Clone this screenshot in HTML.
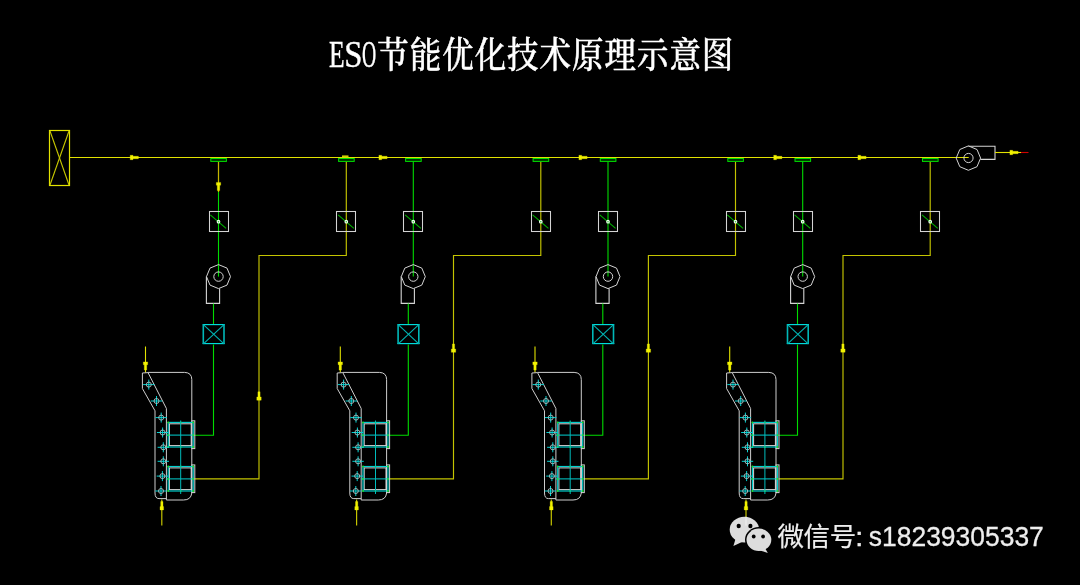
<!DOCTYPE html>
<html lang="zh-CN">
<head>
<meta charset="utf-8">
<title>ESO节能优化技术原理示意图</title>
<style>
html,body{margin:0;padding:0;background:#000;}
body{width:1080px;height:585px;overflow:hidden;position:relative;}
svg{position:absolute;left:0;top:0;display:block;}
.lat{font-family:"Liberation Serif","Noto Serif CJK SC",serif;font-size:37px;fill:#fff;stroke:#fff;stroke-width:0.4px;}
.cjk{font-family:"Liberation Serif","Noto Serif CJK SC",serif;font-size:36px;font-weight:500;fill:#fff;stroke:#fff;stroke-width:0.45px;}
.wmd{font-family:"Liberation Sans","Noto Sans CJK SC",sans-serif;font-size:27.9px;fill:#eeeeee;stroke:#eeeeee;stroke-width:0.3px;}
.wm{font-family:"Liberation Sans","Noto Sans CJK SC",sans-serif;font-size:26.5px;fill:#eeeeee;stroke:#eeeeee;stroke-width:0.2px;}
</style>
</head>
<body>
<svg width="1080" height="585" viewBox="0 0 1080 585">
<rect width="1080" height="585" fill="#000"/>
<g id="title" style="filter:grayscale(1)">
<text><tspan x="328.9" y="66.9" textLength="15.6" lengthAdjust="spacingAndGlyphs" class="lat">E</tspan><tspan x="344.2" y="66.9" textLength="18.2" lengthAdjust="spacingAndGlyphs" class="lat">S</tspan><tspan x="362.0" y="66.9" textLength="14.2" lengthAdjust="spacingAndGlyphs" class="lat">O</tspan><tspan x="377.3" y="67.5" textLength="31.5" lengthAdjust="spacingAndGlyphs" class="cjk">节</tspan><tspan x="409.8" y="67.5" textLength="31.5" lengthAdjust="spacingAndGlyphs" class="cjk">能</tspan><tspan x="442.2" y="67.5" textLength="31.5" lengthAdjust="spacingAndGlyphs" class="cjk">优</tspan><tspan x="474.7" y="67.5" textLength="31.5" lengthAdjust="spacingAndGlyphs" class="cjk">化</tspan><tspan x="507.1" y="67.5" textLength="31.5" lengthAdjust="spacingAndGlyphs" class="cjk">技</tspan><tspan x="539.5" y="67.5" textLength="31.5" lengthAdjust="spacingAndGlyphs" class="cjk">术</tspan><tspan x="572.0" y="67.5" textLength="31.5" lengthAdjust="spacingAndGlyphs" class="cjk">原</tspan><tspan x="604.5" y="67.5" textLength="31.5" lengthAdjust="spacingAndGlyphs" class="cjk">理</tspan><tspan x="636.9" y="67.5" textLength="31.5" lengthAdjust="spacingAndGlyphs" class="cjk">示</tspan><tspan x="669.4" y="67.5" textLength="31.5" lengthAdjust="spacingAndGlyphs" class="cjk">意</tspan><tspan x="701.8" y="67.5" textLength="31.5" lengthAdjust="spacingAndGlyphs" class="cjk">图</tspan></text>
</g>
<g id="diagram" shape-rendering="geometricPrecision">
<rect x="49.5" y="130.5" width="20" height="55" fill="none" stroke="#e2e200" stroke-width="1.2"/>
<line x1="50.0" y1="131.0" x2="69.0" y2="185.0" stroke="#c8c800" stroke-width="1.1" />
<line x1="69.0" y1="131.0" x2="50.0" y2="185.0" stroke="#c8c800" stroke-width="1.1" />
<line x1="70.0" y1="157.5" x2="968.7" y2="157.5" stroke="#e2e200" stroke-width="1.1" />
<polygon points="130.2,155.3 133.0,155.3 133.0,156.3 138.4,156.3 138.4,158.7 133.0,158.7 133.0,159.7 130.2,159.7" fill="#f2f200" stroke="#f2f200" stroke-width="0.3"/>
<polygon points="378.9,155.3 381.7,155.3 381.7,156.3 387.1,156.3 387.1,158.7 381.7,158.7 381.7,159.7 378.9,159.7" fill="#f2f200" stroke="#f2f200" stroke-width="0.3"/>
<polygon points="578.9,155.3 581.7,155.3 581.7,156.3 587.1,156.3 587.1,158.7 581.7,158.7 581.7,159.7 578.9,159.7" fill="#f2f200" stroke="#f2f200" stroke-width="0.3"/>
<polygon points="773.7,155.3 776.5,155.3 776.5,156.3 781.9,156.3 781.9,158.7 776.5,158.7 776.5,159.7 773.7,159.7" fill="#f2f200" stroke="#f2f200" stroke-width="0.3"/>
<polygon points="857.9,155.3 860.7,155.3 860.7,156.3 866.1,156.3 866.1,158.7 860.7,158.7 860.7,159.7 857.9,159.7" fill="#f2f200" stroke="#f2f200" stroke-width="0.3"/>
<rect x="342" y="155.4" width="6.5" height="1.8" fill="#d0d000"/>
<g transform="translate(0.0,0)">
<line x1="218.5" y1="161.5" x2="218.5" y2="276.6" stroke="#00dc00" stroke-width="1.1" />
<line x1="218.5" y1="161.5" x2="218.5" y2="192.0" stroke="#c8b400" stroke-width="1.2" />
<polygon points="216.3,182.4 216.3,185.2 217.3,185.2 217.3,190.6 219.7,190.6 219.7,185.2 220.7,185.2 220.7,182.4" fill="#f2f200" stroke="#f2f200" stroke-width="0.3"/>
<rect x="210.8" y="158.5" width="15.6" height="2.9" fill="#003000" stroke="#00e000" stroke-width="1"/>
<polygon points="230.5,276.6 227.0,285.1 218.5,288.6 210.0,285.1 206.5,276.6 210.0,268.1 218.5,264.6 227.0,268.1" fill="none" stroke="#d4d4d4" stroke-width="1"/>
<circle cx="218.5" cy="276.6" r="4.7" fill="none" stroke="#d4d4d4" stroke-width="1"/>
<polyline points="206.4,276.6 206.4,303.4 219.6,303.4 219.6,288.4" fill="none" stroke="#d4d4d4" stroke-width="1.1"/>
<line x1="213.5" y1="303.6" x2="213.5" y2="324.0" stroke="#00dc00" stroke-width="1.1" />
<line x1="202.6" y1="324.6" x2="224.8" y2="324.6" stroke="#00dcdc" stroke-width="1.15" />
<line x1="202.6" y1="343.6" x2="224.8" y2="343.6" stroke="#00dcdc" stroke-width="1.15" />
<line x1="203.3" y1="324.6" x2="203.3" y2="343.9" stroke="#00b8b8" stroke-width="1.6" />
<line x1="224.0" y1="324.6" x2="224.0" y2="343.9" stroke="#00b8b8" stroke-width="1.6" />
<line x1="203.4" y1="324.6" x2="224.0" y2="343.9" stroke="#00b4b4" stroke-width="1.1" />
<line x1="224.0" y1="324.6" x2="203.4" y2="343.9" stroke="#00b4b4" stroke-width="1.1" />
<polyline points="213.5,344.5 213.5,435.2 194.0,435.2" fill="none" stroke="#00dc00" stroke-width="1.1"/>
<polyline points="194.5,478.9 259.0,478.9 259.0,255.5 346.3,255.5 346.3,161.5" fill="none" stroke="#c4c400" stroke-width="1.15"/>
<rect x="338.6" y="158.5" width="15.6" height="2.9" fill="#003000" stroke="#00e000" stroke-width="1"/>
<polygon points="256.8,400.2 256.8,396.9 257.9,396.9 257.9,391.8 260.1,391.8 260.1,396.9 261.2,396.9 261.2,400.2" fill="#f2f200" stroke="#f2f200" stroke-width="0.3"/>
<line x1="145.5" y1="346.5" x2="145.5" y2="372.6" stroke="#e2e200" stroke-width="1.1" />
<polygon points="143.3,361.9 143.3,364.7 144.3,364.7 144.3,370.1 146.7,370.1 146.7,364.7 147.7,364.7 147.7,361.9" fill="#f2f200" stroke="#f2f200" stroke-width="0.3"/>
<line x1="161.8" y1="499.5" x2="161.8" y2="525.5" stroke="#c4c400" stroke-width="1.2" />
<polygon points="160.0,509.9 160.0,506.6 160.7,506.6 160.7,501.5 163.0,501.5 163.0,506.6 163.6,506.6 163.6,509.9" fill="#f2f200" stroke="#f2f200" stroke-width="0.3"/>
<path d="M148,372.6 L142.4,373 L142.4,388.5 L155,410.8 L155,493 Q155,498.6 159,498.6 L166.4,498.6" fill="none" stroke="#cecece" stroke-width="1"/>
<path d="M148,372.4 L184.6,372.4 Q191.8,372.6 191.8,379.6 L191.8,493 Q191,500 183.5,500 L166.4,500 L166.4,408.5 L148,372.6" fill="none" stroke="#cecece" stroke-width="1"/>
<rect x="191.8" y="420.8" width="3" height="27.8" fill="none" stroke="#d4d4d4" stroke-width="1"/>
<rect x="169.4" y="423.8" width="21.8" height="21.8" fill="none" stroke="#d8d8d8" stroke-width="1"/>
<rect x="168.2" y="422.4" width="25" height="24.6" fill="none" stroke="#00d2d2" stroke-width="1.15"/>
<line x1="166.0" y1="435.1" x2="194.0" y2="435.1" stroke="#00d2d2" stroke-width="1" />
<circle cx="168.2" cy="422.4" r="0.9" fill="#20e020"/>
<circle cx="168.2" cy="447.0" r="0.9" fill="#20e020"/>
<circle cx="180.7" cy="422.4" r="0.9" fill="#20e020"/>
<circle cx="180.7" cy="447.0" r="0.9" fill="#20e020"/>
<circle cx="193.2" cy="422.4" r="0.9" fill="#20e020"/>
<circle cx="193.2" cy="447.0" r="0.9" fill="#20e020"/>
<circle cx="168.2" cy="435.1" r="0.9" fill="#20e020"/><circle cx="193.2" cy="435.1" r="0.9" fill="#20e020"/>
<rect x="191.8" y="464.9" width="3" height="27.7" fill="none" stroke="#d4d4d4" stroke-width="1"/>
<rect x="169.4" y="467.9" width="21.8" height="21.7" fill="none" stroke="#d8d8d8" stroke-width="1"/>
<rect x="168.2" y="466.5" width="25" height="24.5" fill="none" stroke="#00d2d2" stroke-width="1.15"/>
<line x1="166.0" y1="478.9" x2="194.0" y2="478.9" stroke="#00d2d2" stroke-width="1" />
<circle cx="168.2" cy="466.5" r="0.9" fill="#20e020"/>
<circle cx="168.2" cy="491.0" r="0.9" fill="#20e020"/>
<circle cx="180.7" cy="466.5" r="0.9" fill="#20e020"/>
<circle cx="180.7" cy="491.0" r="0.9" fill="#20e020"/>
<circle cx="193.2" cy="466.5" r="0.9" fill="#20e020"/>
<circle cx="193.2" cy="491.0" r="0.9" fill="#20e020"/>
<circle cx="168.2" cy="478.9" r="0.9" fill="#20e020"/><circle cx="193.2" cy="478.9" r="0.9" fill="#20e020"/>
<line x1="180.7" y1="420.5" x2="180.7" y2="494.0" stroke="#00bcbc" stroke-width="1" />
<line x1="143.1" y1="384.6" x2="154.5" y2="384.6" stroke="#00d2d2" stroke-width="1" />
<line x1="148.8" y1="379.6" x2="148.8" y2="389.6" stroke="#00d2d2" stroke-width="1" />
<circle cx="148.8" cy="384.6" r="2.5" fill="none" stroke="#b4c4c4" stroke-width="0.9"/>
<line x1="150.8" y1="401.0" x2="162.2" y2="401.0" stroke="#00d2d2" stroke-width="1" />
<line x1="156.5" y1="396.0" x2="156.5" y2="406.0" stroke="#00d2d2" stroke-width="1" />
<circle cx="156.5" cy="401.0" r="2.5" fill="none" stroke="#b4c4c4" stroke-width="0.9"/>
<line x1="155.5" y1="417.6" x2="166.9" y2="417.6" stroke="#00d2d2" stroke-width="1" />
<line x1="161.2" y1="412.6" x2="161.2" y2="422.6" stroke="#00d2d2" stroke-width="1" />
<circle cx="161.2" cy="417.6" r="2.5" fill="none" stroke="#b4c4c4" stroke-width="0.9"/>
<line x1="156.9" y1="432.5" x2="168.3" y2="432.5" stroke="#00d2d2" stroke-width="1" />
<line x1="162.6" y1="427.5" x2="162.6" y2="437.5" stroke="#00d2d2" stroke-width="1" />
<circle cx="162.6" cy="432.5" r="2.5" fill="none" stroke="#b4c4c4" stroke-width="0.9"/>
<line x1="157.6" y1="447.3" x2="169.0" y2="447.3" stroke="#00d2d2" stroke-width="1" />
<line x1="163.3" y1="442.3" x2="163.3" y2="452.3" stroke="#00d2d2" stroke-width="1" />
<circle cx="163.3" cy="447.3" r="2.5" fill="none" stroke="#b4c4c4" stroke-width="0.9"/>
<line x1="157.6" y1="461.3" x2="169.0" y2="461.3" stroke="#00d2d2" stroke-width="1" />
<line x1="163.3" y1="456.3" x2="163.3" y2="466.3" stroke="#00d2d2" stroke-width="1" />
<circle cx="163.3" cy="461.3" r="2.5" fill="none" stroke="#b4c4c4" stroke-width="0.9"/>
<line x1="156.7" y1="476.1" x2="168.1" y2="476.1" stroke="#00d2d2" stroke-width="1" />
<line x1="162.4" y1="471.1" x2="162.4" y2="481.1" stroke="#00d2d2" stroke-width="1" />
<circle cx="162.4" cy="476.1" r="2.5" fill="none" stroke="#b4c4c4" stroke-width="0.9"/>
<line x1="155.3" y1="491.0" x2="166.7" y2="491.0" stroke="#00d2d2" stroke-width="1" />
<line x1="161.0" y1="486.0" x2="161.0" y2="496.0" stroke="#00d2d2" stroke-width="1" />
<circle cx="161.0" cy="491.0" r="2.5" fill="none" stroke="#b4c4c4" stroke-width="0.9"/>
</g>
<g transform="translate(194.8,0)">
<line x1="218.5" y1="161.5" x2="218.5" y2="276.6" stroke="#00dc00" stroke-width="1.1" />
<rect x="210.8" y="158.5" width="15.6" height="2.9" fill="#003000" stroke="#00e000" stroke-width="1"/>
<polygon points="230.5,276.6 227.0,285.1 218.5,288.6 210.0,285.1 206.5,276.6 210.0,268.1 218.5,264.6 227.0,268.1" fill="none" stroke="#d4d4d4" stroke-width="1"/>
<circle cx="218.5" cy="276.6" r="4.7" fill="none" stroke="#d4d4d4" stroke-width="1"/>
<polyline points="206.4,276.6 206.4,303.4 219.6,303.4 219.6,288.4" fill="none" stroke="#d4d4d4" stroke-width="1.1"/>
<line x1="213.5" y1="303.6" x2="213.5" y2="324.0" stroke="#00dc00" stroke-width="1.1" />
<line x1="202.6" y1="324.6" x2="224.8" y2="324.6" stroke="#00dcdc" stroke-width="1.15" />
<line x1="202.6" y1="343.6" x2="224.8" y2="343.6" stroke="#00dcdc" stroke-width="1.15" />
<line x1="203.3" y1="324.6" x2="203.3" y2="343.9" stroke="#00b8b8" stroke-width="1.6" />
<line x1="224.0" y1="324.6" x2="224.0" y2="343.9" stroke="#00b8b8" stroke-width="1.6" />
<line x1="203.4" y1="324.6" x2="224.0" y2="343.9" stroke="#00b4b4" stroke-width="1.1" />
<line x1="224.0" y1="324.6" x2="203.4" y2="343.9" stroke="#00b4b4" stroke-width="1.1" />
<polyline points="213.5,344.5 213.5,435.2 194.0,435.2" fill="none" stroke="#00dc00" stroke-width="1.1"/>
<polyline points="194.5,478.9 258.7,478.9 258.7,255.5 346.0,255.5 346.0,161.5" fill="none" stroke="#c4c400" stroke-width="1.15"/>
<rect x="338.3" y="158.5" width="15.6" height="2.9" fill="#003000" stroke="#00e000" stroke-width="1"/>
<polygon points="256.5,352.3 256.5,349.0 257.6,349.0 257.6,343.9 259.8,343.9 259.8,349.0 260.9,349.0 260.9,352.3" fill="#f2f200" stroke="#f2f200" stroke-width="0.3"/>
<line x1="145.5" y1="346.5" x2="145.5" y2="372.6" stroke="#e2e200" stroke-width="1.1" />
<polygon points="143.3,361.9 143.3,364.7 144.3,364.7 144.3,370.1 146.7,370.1 146.7,364.7 147.7,364.7 147.7,361.9" fill="#f2f200" stroke="#f2f200" stroke-width="0.3"/>
<line x1="161.8" y1="499.5" x2="161.8" y2="525.5" stroke="#c4c400" stroke-width="1.2" />
<polygon points="160.0,509.9 160.0,506.6 160.7,506.6 160.7,501.5 163.0,501.5 163.0,506.6 163.6,506.6 163.6,509.9" fill="#f2f200" stroke="#f2f200" stroke-width="0.3"/>
<path d="M148,372.6 L142.4,373 L142.4,388.5 L155,410.8 L155,493 Q155,498.6 159,498.6 L166.4,498.6" fill="none" stroke="#cecece" stroke-width="1"/>
<path d="M148,372.4 L184.6,372.4 Q191.8,372.6 191.8,379.6 L191.8,493 Q191,500 183.5,500 L166.4,500 L166.4,408.5 L148,372.6" fill="none" stroke="#cecece" stroke-width="1"/>
<rect x="191.8" y="420.8" width="3" height="27.8" fill="none" stroke="#d4d4d4" stroke-width="1"/>
<rect x="169.4" y="423.8" width="21.8" height="21.8" fill="none" stroke="#d8d8d8" stroke-width="1"/>
<rect x="168.2" y="422.4" width="25" height="24.6" fill="none" stroke="#00d2d2" stroke-width="1.15"/>
<line x1="166.0" y1="435.1" x2="194.0" y2="435.1" stroke="#00d2d2" stroke-width="1" />
<circle cx="168.2" cy="422.4" r="0.9" fill="#20e020"/>
<circle cx="168.2" cy="447.0" r="0.9" fill="#20e020"/>
<circle cx="180.7" cy="422.4" r="0.9" fill="#20e020"/>
<circle cx="180.7" cy="447.0" r="0.9" fill="#20e020"/>
<circle cx="193.2" cy="422.4" r="0.9" fill="#20e020"/>
<circle cx="193.2" cy="447.0" r="0.9" fill="#20e020"/>
<circle cx="168.2" cy="435.1" r="0.9" fill="#20e020"/><circle cx="193.2" cy="435.1" r="0.9" fill="#20e020"/>
<rect x="191.8" y="464.9" width="3" height="27.7" fill="none" stroke="#d4d4d4" stroke-width="1"/>
<rect x="169.4" y="467.9" width="21.8" height="21.7" fill="none" stroke="#d8d8d8" stroke-width="1"/>
<rect x="168.2" y="466.5" width="25" height="24.5" fill="none" stroke="#00d2d2" stroke-width="1.15"/>
<line x1="166.0" y1="478.9" x2="194.0" y2="478.9" stroke="#00d2d2" stroke-width="1" />
<circle cx="168.2" cy="466.5" r="0.9" fill="#20e020"/>
<circle cx="168.2" cy="491.0" r="0.9" fill="#20e020"/>
<circle cx="180.7" cy="466.5" r="0.9" fill="#20e020"/>
<circle cx="180.7" cy="491.0" r="0.9" fill="#20e020"/>
<circle cx="193.2" cy="466.5" r="0.9" fill="#20e020"/>
<circle cx="193.2" cy="491.0" r="0.9" fill="#20e020"/>
<circle cx="168.2" cy="478.9" r="0.9" fill="#20e020"/><circle cx="193.2" cy="478.9" r="0.9" fill="#20e020"/>
<line x1="180.7" y1="420.5" x2="180.7" y2="494.0" stroke="#00bcbc" stroke-width="1" />
<line x1="143.1" y1="384.6" x2="154.5" y2="384.6" stroke="#00d2d2" stroke-width="1" />
<line x1="148.8" y1="379.6" x2="148.8" y2="389.6" stroke="#00d2d2" stroke-width="1" />
<circle cx="148.8" cy="384.6" r="2.5" fill="none" stroke="#b4c4c4" stroke-width="0.9"/>
<line x1="150.8" y1="401.0" x2="162.2" y2="401.0" stroke="#00d2d2" stroke-width="1" />
<line x1="156.5" y1="396.0" x2="156.5" y2="406.0" stroke="#00d2d2" stroke-width="1" />
<circle cx="156.5" cy="401.0" r="2.5" fill="none" stroke="#b4c4c4" stroke-width="0.9"/>
<line x1="155.5" y1="417.6" x2="166.9" y2="417.6" stroke="#00d2d2" stroke-width="1" />
<line x1="161.2" y1="412.6" x2="161.2" y2="422.6" stroke="#00d2d2" stroke-width="1" />
<circle cx="161.2" cy="417.6" r="2.5" fill="none" stroke="#b4c4c4" stroke-width="0.9"/>
<line x1="156.9" y1="432.5" x2="168.3" y2="432.5" stroke="#00d2d2" stroke-width="1" />
<line x1="162.6" y1="427.5" x2="162.6" y2="437.5" stroke="#00d2d2" stroke-width="1" />
<circle cx="162.6" cy="432.5" r="2.5" fill="none" stroke="#b4c4c4" stroke-width="0.9"/>
<line x1="157.6" y1="447.3" x2="169.0" y2="447.3" stroke="#00d2d2" stroke-width="1" />
<line x1="163.3" y1="442.3" x2="163.3" y2="452.3" stroke="#00d2d2" stroke-width="1" />
<circle cx="163.3" cy="447.3" r="2.5" fill="none" stroke="#b4c4c4" stroke-width="0.9"/>
<line x1="157.6" y1="461.3" x2="169.0" y2="461.3" stroke="#00d2d2" stroke-width="1" />
<line x1="163.3" y1="456.3" x2="163.3" y2="466.3" stroke="#00d2d2" stroke-width="1" />
<circle cx="163.3" cy="461.3" r="2.5" fill="none" stroke="#b4c4c4" stroke-width="0.9"/>
<line x1="156.7" y1="476.1" x2="168.1" y2="476.1" stroke="#00d2d2" stroke-width="1" />
<line x1="162.4" y1="471.1" x2="162.4" y2="481.1" stroke="#00d2d2" stroke-width="1" />
<circle cx="162.4" cy="476.1" r="2.5" fill="none" stroke="#b4c4c4" stroke-width="0.9"/>
<line x1="155.3" y1="491.0" x2="166.7" y2="491.0" stroke="#00d2d2" stroke-width="1" />
<line x1="161.0" y1="486.0" x2="161.0" y2="496.0" stroke="#00d2d2" stroke-width="1" />
<circle cx="161.0" cy="491.0" r="2.5" fill="none" stroke="#b4c4c4" stroke-width="0.9"/>
</g>
<g transform="translate(389.5,0)">
<line x1="218.5" y1="161.5" x2="218.5" y2="276.6" stroke="#00dc00" stroke-width="1.1" />
<rect x="210.8" y="158.5" width="15.6" height="2.9" fill="#003000" stroke="#00e000" stroke-width="1"/>
<polygon points="230.5,276.6 227.0,285.1 218.5,288.6 210.0,285.1 206.5,276.6 210.0,268.1 218.5,264.6 227.0,268.1" fill="none" stroke="#d4d4d4" stroke-width="1"/>
<circle cx="218.5" cy="276.6" r="4.7" fill="none" stroke="#d4d4d4" stroke-width="1"/>
<polyline points="206.4,276.6 206.4,303.4 219.6,303.4 219.6,288.4" fill="none" stroke="#d4d4d4" stroke-width="1.1"/>
<line x1="213.3" y1="303.6" x2="213.3" y2="324.0" stroke="#00dc00" stroke-width="1.1" />
<line x1="202.6" y1="324.6" x2="224.8" y2="324.6" stroke="#00dcdc" stroke-width="1.15" />
<line x1="202.6" y1="343.6" x2="224.8" y2="343.6" stroke="#00dcdc" stroke-width="1.15" />
<line x1="203.3" y1="324.6" x2="203.3" y2="343.9" stroke="#00b8b8" stroke-width="1.6" />
<line x1="224.0" y1="324.6" x2="224.0" y2="343.9" stroke="#00b8b8" stroke-width="1.6" />
<line x1="203.4" y1="324.6" x2="224.0" y2="343.9" stroke="#00b4b4" stroke-width="1.1" />
<line x1="224.0" y1="324.6" x2="203.4" y2="343.9" stroke="#00b4b4" stroke-width="1.1" />
<polyline points="213.3,344.5 213.3,435.2 194.0,435.2" fill="none" stroke="#00dc00" stroke-width="1.1"/>
<polyline points="194.5,478.9 258.9,478.9 258.9,255.5 346.0,255.5 346.0,161.5" fill="none" stroke="#c4c400" stroke-width="1.15"/>
<rect x="338.3" y="158.5" width="15.6" height="2.9" fill="#003000" stroke="#00e000" stroke-width="1"/>
<polygon points="256.7,352.3 256.7,349.0 257.8,349.0 257.8,343.9 260.0,343.9 260.0,349.0 261.1,349.0 261.1,352.3" fill="#f2f200" stroke="#f2f200" stroke-width="0.3"/>
<line x1="145.5" y1="346.5" x2="145.5" y2="372.6" stroke="#e2e200" stroke-width="1.1" />
<polygon points="143.3,361.9 143.3,364.7 144.3,364.7 144.3,370.1 146.7,370.1 146.7,364.7 147.7,364.7 147.7,361.9" fill="#f2f200" stroke="#f2f200" stroke-width="0.3"/>
<line x1="161.8" y1="499.5" x2="161.8" y2="525.5" stroke="#c4c400" stroke-width="1.2" />
<polygon points="160.0,509.9 160.0,506.6 160.7,506.6 160.7,501.5 163.0,501.5 163.0,506.6 163.6,506.6 163.6,509.9" fill="#f2f200" stroke="#f2f200" stroke-width="0.3"/>
<path d="M148,372.6 L142.4,373 L142.4,388.5 L155,410.8 L155,493 Q155,498.6 159,498.6 L166.4,498.6" fill="none" stroke="#cecece" stroke-width="1"/>
<path d="M148,372.4 L184.6,372.4 Q191.8,372.6 191.8,379.6 L191.8,493 Q191,500 183.5,500 L166.4,500 L166.4,408.5 L148,372.6" fill="none" stroke="#cecece" stroke-width="1"/>
<rect x="191.8" y="420.8" width="3" height="27.8" fill="none" stroke="#d4d4d4" stroke-width="1"/>
<rect x="169.4" y="423.8" width="21.8" height="21.8" fill="none" stroke="#d8d8d8" stroke-width="1"/>
<rect x="168.2" y="422.4" width="25" height="24.6" fill="none" stroke="#00d2d2" stroke-width="1.15"/>
<line x1="166.0" y1="435.1" x2="194.0" y2="435.1" stroke="#00d2d2" stroke-width="1" />
<circle cx="168.2" cy="422.4" r="0.9" fill="#20e020"/>
<circle cx="168.2" cy="447.0" r="0.9" fill="#20e020"/>
<circle cx="180.7" cy="422.4" r="0.9" fill="#20e020"/>
<circle cx="180.7" cy="447.0" r="0.9" fill="#20e020"/>
<circle cx="193.2" cy="422.4" r="0.9" fill="#20e020"/>
<circle cx="193.2" cy="447.0" r="0.9" fill="#20e020"/>
<circle cx="168.2" cy="435.1" r="0.9" fill="#20e020"/><circle cx="193.2" cy="435.1" r="0.9" fill="#20e020"/>
<rect x="191.8" y="464.9" width="3" height="27.7" fill="none" stroke="#d4d4d4" stroke-width="1"/>
<rect x="169.4" y="467.9" width="21.8" height="21.7" fill="none" stroke="#d8d8d8" stroke-width="1"/>
<rect x="168.2" y="466.5" width="25" height="24.5" fill="none" stroke="#00d2d2" stroke-width="1.15"/>
<line x1="166.0" y1="478.9" x2="194.0" y2="478.9" stroke="#00d2d2" stroke-width="1" />
<circle cx="168.2" cy="466.5" r="0.9" fill="#20e020"/>
<circle cx="168.2" cy="491.0" r="0.9" fill="#20e020"/>
<circle cx="180.7" cy="466.5" r="0.9" fill="#20e020"/>
<circle cx="180.7" cy="491.0" r="0.9" fill="#20e020"/>
<circle cx="193.2" cy="466.5" r="0.9" fill="#20e020"/>
<circle cx="193.2" cy="491.0" r="0.9" fill="#20e020"/>
<circle cx="168.2" cy="478.9" r="0.9" fill="#20e020"/><circle cx="193.2" cy="478.9" r="0.9" fill="#20e020"/>
<line x1="180.7" y1="420.5" x2="180.7" y2="494.0" stroke="#00bcbc" stroke-width="1" />
<line x1="143.1" y1="384.6" x2="154.5" y2="384.6" stroke="#00d2d2" stroke-width="1" />
<line x1="148.8" y1="379.6" x2="148.8" y2="389.6" stroke="#00d2d2" stroke-width="1" />
<circle cx="148.8" cy="384.6" r="2.5" fill="none" stroke="#b4c4c4" stroke-width="0.9"/>
<line x1="150.8" y1="401.0" x2="162.2" y2="401.0" stroke="#00d2d2" stroke-width="1" />
<line x1="156.5" y1="396.0" x2="156.5" y2="406.0" stroke="#00d2d2" stroke-width="1" />
<circle cx="156.5" cy="401.0" r="2.5" fill="none" stroke="#b4c4c4" stroke-width="0.9"/>
<line x1="155.5" y1="417.6" x2="166.9" y2="417.6" stroke="#00d2d2" stroke-width="1" />
<line x1="161.2" y1="412.6" x2="161.2" y2="422.6" stroke="#00d2d2" stroke-width="1" />
<circle cx="161.2" cy="417.6" r="2.5" fill="none" stroke="#b4c4c4" stroke-width="0.9"/>
<line x1="156.9" y1="432.5" x2="168.3" y2="432.5" stroke="#00d2d2" stroke-width="1" />
<line x1="162.6" y1="427.5" x2="162.6" y2="437.5" stroke="#00d2d2" stroke-width="1" />
<circle cx="162.6" cy="432.5" r="2.5" fill="none" stroke="#b4c4c4" stroke-width="0.9"/>
<line x1="157.6" y1="447.3" x2="169.0" y2="447.3" stroke="#00d2d2" stroke-width="1" />
<line x1="163.3" y1="442.3" x2="163.3" y2="452.3" stroke="#00d2d2" stroke-width="1" />
<circle cx="163.3" cy="447.3" r="2.5" fill="none" stroke="#b4c4c4" stroke-width="0.9"/>
<line x1="157.6" y1="461.3" x2="169.0" y2="461.3" stroke="#00d2d2" stroke-width="1" />
<line x1="163.3" y1="456.3" x2="163.3" y2="466.3" stroke="#00d2d2" stroke-width="1" />
<circle cx="163.3" cy="461.3" r="2.5" fill="none" stroke="#b4c4c4" stroke-width="0.9"/>
<line x1="156.7" y1="476.1" x2="168.1" y2="476.1" stroke="#00d2d2" stroke-width="1" />
<line x1="162.4" y1="471.1" x2="162.4" y2="481.1" stroke="#00d2d2" stroke-width="1" />
<circle cx="162.4" cy="476.1" r="2.5" fill="none" stroke="#b4c4c4" stroke-width="0.9"/>
<line x1="155.3" y1="491.0" x2="166.7" y2="491.0" stroke="#00d2d2" stroke-width="1" />
<line x1="161.0" y1="486.0" x2="161.0" y2="496.0" stroke="#00d2d2" stroke-width="1" />
<circle cx="161.0" cy="491.0" r="2.5" fill="none" stroke="#b4c4c4" stroke-width="0.9"/>
</g>
<g transform="translate(584.2,0)">
<line x1="218.5" y1="161.5" x2="218.5" y2="276.6" stroke="#00dc00" stroke-width="1.1" />
<rect x="210.8" y="158.5" width="15.6" height="2.9" fill="#003000" stroke="#00e000" stroke-width="1"/>
<polygon points="230.5,276.6 227.0,285.1 218.5,288.6 210.0,285.1 206.5,276.6 210.0,268.1 218.5,264.6 227.0,268.1" fill="none" stroke="#d4d4d4" stroke-width="1"/>
<circle cx="218.5" cy="276.6" r="4.7" fill="none" stroke="#d4d4d4" stroke-width="1"/>
<polyline points="206.4,276.6 206.4,303.4 219.6,303.4 219.6,288.4" fill="none" stroke="#d4d4d4" stroke-width="1.1"/>
<line x1="213.3" y1="303.6" x2="213.3" y2="324.0" stroke="#00dc00" stroke-width="1.1" />
<line x1="202.6" y1="324.6" x2="224.8" y2="324.6" stroke="#00dcdc" stroke-width="1.15" />
<line x1="202.6" y1="343.6" x2="224.8" y2="343.6" stroke="#00dcdc" stroke-width="1.15" />
<line x1="203.3" y1="324.6" x2="203.3" y2="343.9" stroke="#00b8b8" stroke-width="1.6" />
<line x1="224.0" y1="324.6" x2="224.0" y2="343.9" stroke="#00b8b8" stroke-width="1.6" />
<line x1="203.4" y1="324.6" x2="224.0" y2="343.9" stroke="#00b4b4" stroke-width="1.1" />
<line x1="224.0" y1="324.6" x2="203.4" y2="343.9" stroke="#00b4b4" stroke-width="1.1" />
<polyline points="213.3,344.5 213.3,435.2 194.0,435.2" fill="none" stroke="#00dc00" stroke-width="1.1"/>
<polyline points="194.5,478.9 258.8,478.9 258.8,255.5 346.0,255.5 346.0,161.5" fill="none" stroke="#c4c400" stroke-width="1.15"/>
<rect x="338.3" y="158.5" width="15.6" height="2.9" fill="#003000" stroke="#00e000" stroke-width="1"/>
<polygon points="256.6,352.2 256.6,348.9 257.6,348.9 257.6,343.9 259.9,343.9 259.9,348.9 260.9,348.9 260.9,352.2" fill="#f2f200" stroke="#f2f200" stroke-width="0.3"/>
<line x1="145.5" y1="346.5" x2="145.5" y2="372.6" stroke="#e2e200" stroke-width="1.1" />
<polygon points="143.3,361.9 143.3,364.7 144.3,364.7 144.3,370.1 146.7,370.1 146.7,364.7 147.7,364.7 147.7,361.9" fill="#f2f200" stroke="#f2f200" stroke-width="0.3"/>
<line x1="161.8" y1="499.5" x2="161.8" y2="525.5" stroke="#c4c400" stroke-width="1.2" />
<polygon points="160.0,509.9 160.0,506.6 160.7,506.6 160.7,501.5 163.0,501.5 163.0,506.6 163.6,506.6 163.6,509.9" fill="#f2f200" stroke="#f2f200" stroke-width="0.3"/>
<path d="M148,372.6 L142.4,373 L142.4,388.5 L155,410.8 L155,493 Q155,498.6 159,498.6 L166.4,498.6" fill="none" stroke="#cecece" stroke-width="1"/>
<path d="M148,372.4 L184.6,372.4 Q191.8,372.6 191.8,379.6 L191.8,493 Q191,500 183.5,500 L166.4,500 L166.4,408.5 L148,372.6" fill="none" stroke="#cecece" stroke-width="1"/>
<rect x="191.8" y="420.8" width="3" height="27.8" fill="none" stroke="#d4d4d4" stroke-width="1"/>
<rect x="169.4" y="423.8" width="21.8" height="21.8" fill="none" stroke="#d8d8d8" stroke-width="1"/>
<rect x="168.2" y="422.4" width="25" height="24.6" fill="none" stroke="#00d2d2" stroke-width="1.15"/>
<line x1="166.0" y1="435.1" x2="194.0" y2="435.1" stroke="#00d2d2" stroke-width="1" />
<circle cx="168.2" cy="422.4" r="0.9" fill="#20e020"/>
<circle cx="168.2" cy="447.0" r="0.9" fill="#20e020"/>
<circle cx="180.7" cy="422.4" r="0.9" fill="#20e020"/>
<circle cx="180.7" cy="447.0" r="0.9" fill="#20e020"/>
<circle cx="193.2" cy="422.4" r="0.9" fill="#20e020"/>
<circle cx="193.2" cy="447.0" r="0.9" fill="#20e020"/>
<circle cx="168.2" cy="435.1" r="0.9" fill="#20e020"/><circle cx="193.2" cy="435.1" r="0.9" fill="#20e020"/>
<rect x="191.8" y="464.9" width="3" height="27.7" fill="none" stroke="#d4d4d4" stroke-width="1"/>
<rect x="169.4" y="467.9" width="21.8" height="21.7" fill="none" stroke="#d8d8d8" stroke-width="1"/>
<rect x="168.2" y="466.5" width="25" height="24.5" fill="none" stroke="#00d2d2" stroke-width="1.15"/>
<line x1="166.0" y1="478.9" x2="194.0" y2="478.9" stroke="#00d2d2" stroke-width="1" />
<circle cx="168.2" cy="466.5" r="0.9" fill="#20e020"/>
<circle cx="168.2" cy="491.0" r="0.9" fill="#20e020"/>
<circle cx="180.7" cy="466.5" r="0.9" fill="#20e020"/>
<circle cx="180.7" cy="491.0" r="0.9" fill="#20e020"/>
<circle cx="193.2" cy="466.5" r="0.9" fill="#20e020"/>
<circle cx="193.2" cy="491.0" r="0.9" fill="#20e020"/>
<circle cx="168.2" cy="478.9" r="0.9" fill="#20e020"/><circle cx="193.2" cy="478.9" r="0.9" fill="#20e020"/>
<line x1="180.7" y1="420.5" x2="180.7" y2="494.0" stroke="#00bcbc" stroke-width="1" />
<line x1="143.1" y1="384.6" x2="154.5" y2="384.6" stroke="#00d2d2" stroke-width="1" />
<line x1="148.8" y1="379.6" x2="148.8" y2="389.6" stroke="#00d2d2" stroke-width="1" />
<circle cx="148.8" cy="384.6" r="2.5" fill="none" stroke="#b4c4c4" stroke-width="0.9"/>
<line x1="150.8" y1="401.0" x2="162.2" y2="401.0" stroke="#00d2d2" stroke-width="1" />
<line x1="156.5" y1="396.0" x2="156.5" y2="406.0" stroke="#00d2d2" stroke-width="1" />
<circle cx="156.5" cy="401.0" r="2.5" fill="none" stroke="#b4c4c4" stroke-width="0.9"/>
<line x1="155.5" y1="417.6" x2="166.9" y2="417.6" stroke="#00d2d2" stroke-width="1" />
<line x1="161.2" y1="412.6" x2="161.2" y2="422.6" stroke="#00d2d2" stroke-width="1" />
<circle cx="161.2" cy="417.6" r="2.5" fill="none" stroke="#b4c4c4" stroke-width="0.9"/>
<line x1="156.9" y1="432.5" x2="168.3" y2="432.5" stroke="#00d2d2" stroke-width="1" />
<line x1="162.6" y1="427.5" x2="162.6" y2="437.5" stroke="#00d2d2" stroke-width="1" />
<circle cx="162.6" cy="432.5" r="2.5" fill="none" stroke="#b4c4c4" stroke-width="0.9"/>
<line x1="157.6" y1="447.3" x2="169.0" y2="447.3" stroke="#00d2d2" stroke-width="1" />
<line x1="163.3" y1="442.3" x2="163.3" y2="452.3" stroke="#00d2d2" stroke-width="1" />
<circle cx="163.3" cy="447.3" r="2.5" fill="none" stroke="#b4c4c4" stroke-width="0.9"/>
<line x1="157.6" y1="461.3" x2="169.0" y2="461.3" stroke="#00d2d2" stroke-width="1" />
<line x1="163.3" y1="456.3" x2="163.3" y2="466.3" stroke="#00d2d2" stroke-width="1" />
<circle cx="163.3" cy="461.3" r="2.5" fill="none" stroke="#b4c4c4" stroke-width="0.9"/>
<line x1="156.7" y1="476.1" x2="168.1" y2="476.1" stroke="#00d2d2" stroke-width="1" />
<line x1="162.4" y1="471.1" x2="162.4" y2="481.1" stroke="#00d2d2" stroke-width="1" />
<circle cx="162.4" cy="476.1" r="2.5" fill="none" stroke="#b4c4c4" stroke-width="0.9"/>
<line x1="155.3" y1="491.0" x2="166.7" y2="491.0" stroke="#00d2d2" stroke-width="1" />
<line x1="161.0" y1="486.0" x2="161.0" y2="496.0" stroke="#00d2d2" stroke-width="1" />
<circle cx="161.0" cy="491.0" r="2.5" fill="none" stroke="#b4c4c4" stroke-width="0.9"/>
</g>
<rect x="209.5" y="211.5" width="19" height="20" fill="none" stroke="#d4d4d4" stroke-width="1.05"/>
<line x1="210.3" y1="214.8" x2="226.1" y2="228.4" stroke="#00b400" stroke-width="1.05" />
<circle cx="218.5" cy="221.7" r="1.3" fill="#30c030" stroke="#f0fff0" stroke-width="1.1"/>
<rect x="336.5" y="211.5" width="19" height="20" fill="none" stroke="#d4d4d4" stroke-width="1.05"/>
<line x1="338.1" y1="214.8" x2="353.9" y2="228.4" stroke="#00b400" stroke-width="1.05" />
<circle cx="346.3" cy="221.7" r="1.3" fill="#30c030" stroke="#f0fff0" stroke-width="1.1"/>
<rect x="403.5" y="211.5" width="19" height="20" fill="none" stroke="#d4d4d4" stroke-width="1.05"/>
<line x1="405.1" y1="214.8" x2="420.9" y2="228.4" stroke="#00b400" stroke-width="1.05" />
<circle cx="413.3" cy="221.7" r="1.3" fill="#30c030" stroke="#f0fff0" stroke-width="1.1"/>
<rect x="531.5" y="211.5" width="19" height="20" fill="none" stroke="#d4d4d4" stroke-width="1.05"/>
<line x1="532.6" y1="214.8" x2="548.4" y2="228.4" stroke="#00b400" stroke-width="1.05" />
<circle cx="540.8" cy="221.7" r="1.3" fill="#30c030" stroke="#f0fff0" stroke-width="1.1"/>
<rect x="598.5" y="211.5" width="19" height="20" fill="none" stroke="#d4d4d4" stroke-width="1.05"/>
<line x1="599.8" y1="214.8" x2="615.6" y2="228.4" stroke="#00b400" stroke-width="1.05" />
<circle cx="608.0" cy="221.7" r="1.3" fill="#30c030" stroke="#f0fff0" stroke-width="1.1"/>
<rect x="726.5" y="211.5" width="19" height="20" fill="none" stroke="#d4d4d4" stroke-width="1.05"/>
<line x1="727.3" y1="214.8" x2="743.1" y2="228.4" stroke="#00b400" stroke-width="1.05" />
<circle cx="735.5" cy="221.7" r="1.3" fill="#30c030" stroke="#f0fff0" stroke-width="1.1"/>
<rect x="793.5" y="211.5" width="19" height="20" fill="none" stroke="#d4d4d4" stroke-width="1.05"/>
<line x1="794.5" y1="214.8" x2="810.3" y2="228.4" stroke="#00b400" stroke-width="1.05" />
<circle cx="802.7" cy="221.7" r="1.3" fill="#30c030" stroke="#f0fff0" stroke-width="1.1"/>
<rect x="920.5" y="211.5" width="19" height="20" fill="none" stroke="#d4d4d4" stroke-width="1.05"/>
<line x1="922.0" y1="214.8" x2="937.8" y2="228.4" stroke="#00b400" stroke-width="1.05" />
<circle cx="930.2" cy="221.7" r="1.3" fill="#30c030" stroke="#f0fff0" stroke-width="1.1"/>
<polygon points="980.6,158.1 977.0,166.7 968.4,170.3 959.8,166.7 956.2,158.1 959.8,149.5 968.4,145.9 977.0,149.5" fill="none" stroke="#d4d4d4" stroke-width="1"/>
<circle cx="968.5" cy="158" r="4.6" fill="none" stroke="#d4d4d4" stroke-width="1"/>
<polyline points="968.4,146.2 995.0,146.2 995.0,159.4 980.4,159.4" fill="none" stroke="#d4d4d4" stroke-width="1.1"/>
<line x1="995.0" y1="152.5" x2="1021.0" y2="152.5" stroke="#e2e200" stroke-width="1.1" />
<polygon points="1009.9,150.3 1012.7,150.3 1012.7,151.3 1018.1,151.3 1018.1,153.7 1012.7,153.7 1012.7,154.7 1009.9,154.7" fill="#f2f200" stroke="#f2f200" stroke-width="0.3"/>
<line x1="1021.0" y1="152.5" x2="1028.5" y2="152.5" stroke="#d00000" stroke-width="1.1" />
</g>
<g id="watermark" style="filter:grayscale(1)">
<g fill="#dddddd">
<ellipse cx="744.4" cy="529.7" rx="14.7" ry="12.9"/>
<path d="M735.5,539 L733.4,546 L742.5,541.8 Z"/>
</g>
<ellipse cx="758.9" cy="539.8" rx="13.9" ry="12.7" fill="#000"/>
<g fill="#dddddd">
<ellipse cx="758.9" cy="539.8" rx="12.4" ry="11.2"/>
<path d="M765,548 L767.8,553 L759.5,550.3 Z"/>
</g>
<g fill="#000">
<ellipse cx="738.7" cy="526" rx="2.1" ry="2.2"/><ellipse cx="750.4" cy="526" rx="2.1" ry="2.2"/>
<ellipse cx="753.7" cy="536.4" rx="1.9" ry="2"/><ellipse cx="763.1" cy="536.4" rx="1.9" ry="2"/>
</g>
<line x1="746" y1="516.8" x2="746" y2="525.5" stroke="#f2f2b4" stroke-width="1.3"/>
<text y="546"><tspan x="777.5" class="wm" textLength="78.7" lengthAdjust="spacing">微信号</tspan><tspan x="855.6" class="wm" style="stroke:#eeeeee;stroke-width:0.6px">: </tspan><tspan x="868.8" class="wmd" textLength="175.0" lengthAdjust="spacingAndGlyphs">s18239305337</tspan></text>
</g>
</svg>
</body>
</html>
